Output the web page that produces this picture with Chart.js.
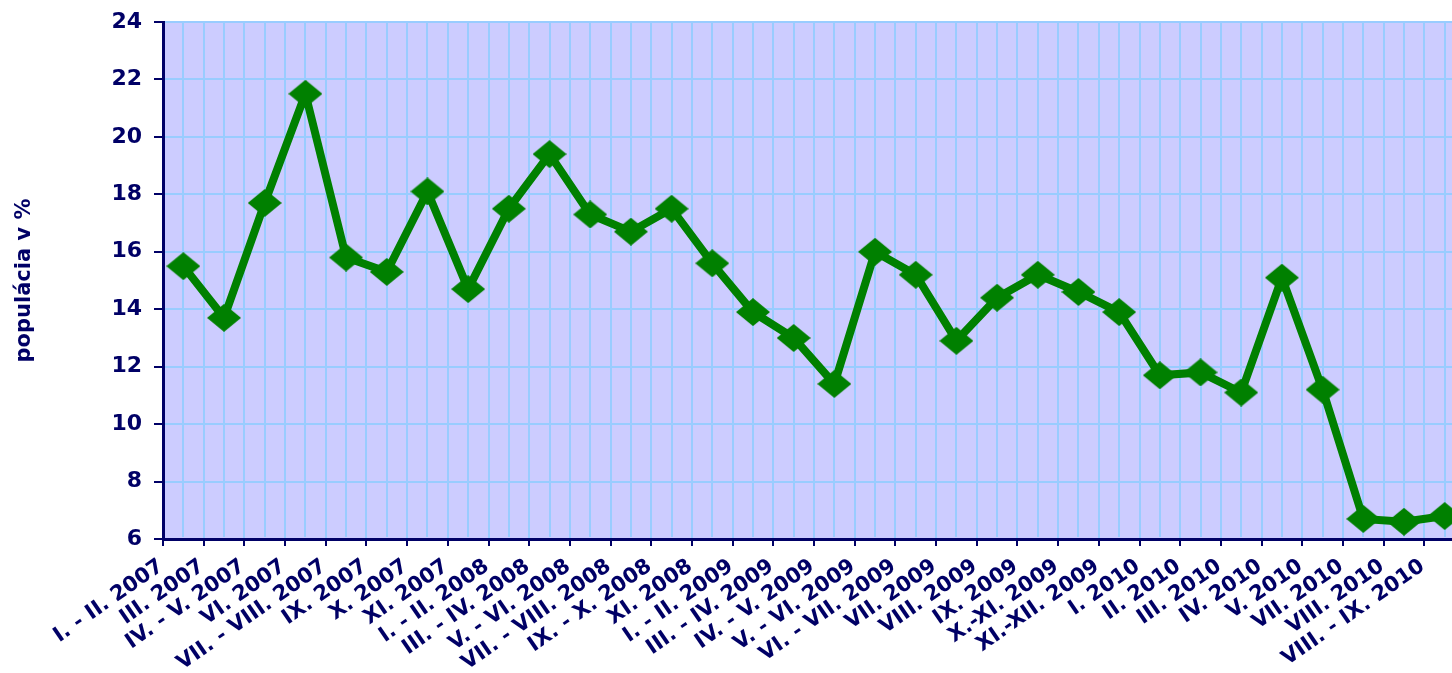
<!DOCTYPE html>
<html>
<head>
<meta charset="utf-8">
<script src="https://cdn.jsdelivr.net/npm/chart.js@4.4.1/dist/chart.umd.min.js"></script>
<style>
  html, body { margin: 0; padding: 0; background: #ffffff; overflow: hidden; }
  #wrap { position: absolute; left: 0; top: 0; width: 1487px; height: 673px; }
</style>
</head>
<body>
<div id="wrap"><canvas id="c" width="1487" height="673"></canvas></div>
<script>
const categories = [
  "I. - II. 2007", "III. 2007", "IV. - V. 2007", "VI. 2007", "VII. - VIII. 2007",
  "IX. 2007", "X. 2007", "XI. 2007", "I. - II. 2008", "III. - IV. 2008",
  "V. - VI. 2008", "VII. - VIII. 2008", "IX. - X. 2008", "XI. 2008", "I. - II. 2009",
  "III. - IV. 2009", "IV. - V. 2009", "V. - VI. 2009", "VI. - VII. 2009", "VII. 2009",
  "VIII. 2009", "IX. 2009", "X.-XI. 2009", "XI.-XII. 2009", "I. 2010",
  "II. 2010", "III. 2010", "IV. 2010", "V. 2010", "VII. 2010",
  "VIII. 2010", "VIII. - IX. 2010"
];
const values = [
  15.5, 13.7, 17.7, 21.5, 15.8, 15.3, 18.1, 14.7, 17.5, 19.4,
  17.3, 16.7, 17.5, 15.6, 13.9, 13.0, 11.4, 16.0, 15.2, 12.9,
  14.4, 15.2, 14.6, 13.9, 11.7, 11.8, 11.1, 15.1, 11.2, 6.7,
  6.6, 6.8
];
const yMin = 6, yMax = 24, yStep = 2;
const yTitle = "populácia v %";

const NAVY = '#000066';
const GRID = '#99CCFF';
const PLOT_BG = '#CCCCFF';
const GREEN = '#008000';

// wide diamond marker image
const marker = document.createElement('canvas');
marker.width = 34; marker.height = 28;
(function () {
  const m = marker.getContext('2d');
  m.fillStyle = GREEN;
  m.beginPath();
  m.moveTo(17, 0); m.lineTo(34, 14); m.lineTo(17, 28); m.lineTo(0, 14);
  m.closePath(); m.fill();
})();

const plotBg = {
  id: 'plotBg',
  beforeDraw(chart) {
    const a = chart.chartArea, ctx = chart.ctx;
    ctx.save();
    ctx.fillStyle = PLOT_BG;
    ctx.fillRect(a.left, a.top, a.right - a.left, a.bottom - a.top);
    ctx.restore();
  }
};
const midGrid = {
  id: 'midGrid',
  beforeDatasetsDraw(chart) {
    const a = chart.chartArea, ctx = chart.ctx, x = chart.scales.x;
    ctx.save();
    ctx.strokeStyle = GRID;
    ctx.lineWidth = 2;
    ctx.beginPath();
    for (let i = 0; i < categories.length; i++) {
      const px = Math.round(x.getPixelForValue(i));
      ctx.moveTo(px, a.top);
      ctx.lineTo(px, a.bottom - 2);
    }
    ctx.stroke();
    ctx.restore();
  }
};

new Chart(document.getElementById('c'), {
  type: 'line',
  data: {
    labels: categories,
    datasets: [{
      data: values,
      borderColor: GREEN,
      backgroundColor: GREEN,
      borderWidth: 8,
      tension: 0,
      pointStyle: marker,
      pointRadius: 14,
      pointHoverRadius: 14,
      clip: false
    }]
  },
  options: {
    responsive: false,
    animation: false,
    events: [],
    layout: { padding: { top: 21, right: 2, left: 0, bottom: 0 } },
    plugins: { legend: { display: false }, tooltip: { enabled: false } },
    scales: {
      x: {
        type: 'category',
        offset: true,
        grid: { offset: true, color: GRID, lineWidth: 2, tickColor: NAVY, tickLength: 7, tickWidth: 2 },
        border: { color: NAVY, width: 3 },
        ticks: {
          autoSkip: false,
          minRotation: 35, maxRotation: 35,
          labelOffset: -22,
          padding: 8,
          color: NAVY,
          font: { family: 'DejaVu Sans', weight: 'bold', size: 21 }
        },
        afterFit(scale) { scale.height = 134; }
      },
      y: {
        min: yMin, max: yMax,
        grid: { color: GRID, lineWidth: 2, tickColor: NAVY, tickLength: 9, tickWidth: 2 },
        border: { color: NAVY, width: 3 },
        ticks: {
          stepSize: yStep,
          padding: 12,
          color: NAVY,
          font: { family: 'DejaVu Sans', weight: 'bold', size: 22, lineHeight: 0.8 }
        },
        title: {
          display: true,
          text: yTitle,
          color: NAVY,
          padding: { top: 12, bottom: 0 },
          font: { family: 'DejaVu Sans', weight: 'bold', size: 21 }
        },
        afterFit(scale) { scale.width = 163; }
      }
    }
  },
  plugins: [plotBg, midGrid]
});
</script>
</body>
</html>
